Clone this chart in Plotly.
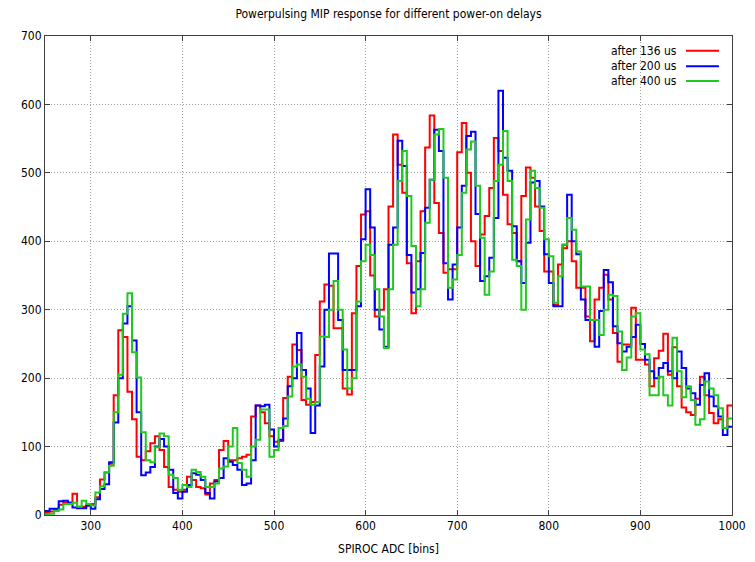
import plotly.graph_objects as go

# bin starts (ADC), width 5
bin_start = list(range(250, 1000, 5))
bin_end = 1000

after_136 = [3, 5, 8, 15, 18, 18, 31, 12, 12, 14,
             16, 26, 52, 62, 75, 175, 270, 260, 180, 140,
             85, 80, 93, 105, 115, 95, 70, 41, 37, 34,
             37, 56, 51, 41, 39, 30, 46, 51, 95, 108,
             80, 80, 83, 85, 88, 144, 160, 150, 134, 115,
             107, 108, 171, 202, 249, 241, 168, 161, 165, 234,
             312, 337, 335, 273, 273, 185, 176, 295, 364, 439,
             444, 350, 290, 300, 330, 451, 556, 512, 471, 368,
             295, 371, 444, 537, 584, 456, 412, 354, 359, 359,
             530, 573, 500, 400, 364, 410, 437, 478, 551, 532,
             468, 425, 412, 371, 466, 508, 493, 451, 415, 356,
             356, 307, 366, 390, 400, 371, 332, 332, 290, 254,
             315, 332, 351, 315, 266, 224, 249, 249, 303, 227,
             227, 220, 188, 229, 240, 265, 205, 245, 188, 157,
             150, 146, 170, 202, 175, 149, 134, 140, 127, 160]

after_200 = [6, 9, 9, 20, 21, 18, 11, 10, 10, 14,
             9, 23, 38, 45, 77, 135, 200, 280, 305, 255,
             150, 58, 62, 70, 100, 111, 100, 66, 32, 24,
             34, 44, 61, 59, 51, 32, 24, 49, 54, 83,
             78, 73, 66, 44, 46, 80, 160, 159, 161, 125,
             100, 110, 141, 188, 200, 266, 212, 185, 120, 160,
             217, 300, 382, 382, 285, 212, 212, 212, 305, 403,
             476, 420, 300, 271, 246, 395, 420, 547, 510, 380,
             325, 330, 383, 449, 490, 563, 532, 368, 315, 366,
             420, 481, 554, 560, 440, 342, 349, 376, 434, 620,
             522, 503, 422, 371, 339, 398, 486, 488, 451, 381,
             339, 305, 305, 395, 468, 400, 381, 315, 285, 285,
             246, 298, 358, 340, 276, 251, 239, 246, 260, 278,
             250, 227, 210, 200, 215, 222, 210, 200, 239, 215,
             185, 178, 161, 190, 207, 173, 159, 144, 117, 129]

after_400 = [1, 2, 6, 8, 16, 16, 18, 12, 21, 16,
             14, 33, 42, 62, 72, 150, 205, 294, 324, 238,
             201, 121, 80, 77, 99, 119, 115, 59, 54, 37,
             44, 41, 66, 63, 56, 41, 41, 46, 68, 71,
             100, 127, 76, 66, 56, 100, 110, 154, 154, 85,
             95, 127, 130, 173, 217, 220, 202, 170, 161, 165,
             261, 260, 300, 342, 300, 242, 185, 200, 312, 371,
             395, 380, 330, 290, 244, 330, 395, 488, 532, 466,
             393, 305, 330, 427, 490, 556, 564, 493, 332, 344,
             380, 471, 534, 546, 481, 405, 322, 356, 488, 512,
             561, 488, 373, 364, 300, 432, 503, 478, 449, 403,
             378, 310, 349, 395, 434, 417, 385, 334, 334, 285,
             285, 263, 300, 322, 320, 268, 212, 230, 290, 295,
             242, 235, 175, 175, 202, 175, 160, 259, 210, 172,
             188, 168, 132, 140, 195, 185, 175, 156, 127, 141]

series_names = ["after 136 us", "after 200 us", "after 400 us"]
series_colors = ["#ff0000", "#0000ff", "#22c822"]
x_ticks = [300, 400, 500, 600, 700, 800, 900, 1000]
y_ticks = [0, 100, 200, 300, 400, 500, 600, 700]

FONT = "DejaVu Sans Condensed, Liberation Sans Narrow, DejaVu Sans, sans-serif"

fig = go.Figure()
xs = bin_start + [bin_end]
for name, vals, col in zip(series_names, [after_136, after_200, after_400], series_colors):
    fig.add_trace(go.Scatter(
        x=xs, y=vals + [vals[-1]], mode="lines", name=name,
        line=dict(color=col, width=2, shape="hv"), showlegend=False,
        hoverinfo="skip"))

# gnuplot-style key (text right, sample line on right)
row_y = [0.969, 0.937, 0.906]
for name, col, yy in zip(series_names, series_colors, row_y):
    fig.add_annotation(x=0.923, y=yy, xref="paper", yref="paper", text=name,
                       showarrow=False, xanchor="right", yanchor="middle",
                       font=dict(family=FONT, size=12, color="#000000"))
    fig.add_shape(type="line", xref="paper", yref="paper",
                  x0=0.933, x1=0.981, y0=yy, y1=yy,
                  line=dict(color=col, width=2))

axis_common = dict(showline=True, linecolor="#404040", linewidth=1, mirror="ticks",
                   ticks="inside", ticklen=5, tickcolor="#404040", automargin=False,
                   showgrid=True, gridcolor="#a0a0a0", griddash="1px,2px", gridwidth=1,
                   zeroline=False, tickfont=dict(family=FONT, size=12, color="#000000"))

fig.update_xaxes(range=[250, 1000], tickvals=x_ticks,
                 title=dict(text="SPIROC ADC [bins]", standoff=12,
                            font=dict(family=FONT, size=12, color="#000000")),
                 **axis_common)
fig.update_yaxes(range=[0, 700], tickvals=y_ticks, **axis_common)

fig.update_layout(
    width=755, height=562,
    margin=dict(l=45, r=23, t=36, b=47),
    paper_bgcolor="#ffffff", plot_bgcolor="#ffffff",
    title=dict(text="Powerpulsing MIP response for different power-on delays",
               x=0.5, xref="paper", y=1 - 14 / 562, yref="container",
               xanchor="center", yanchor="middle", automargin=False,
               font=dict(family=FONT, size=12, color="#000000")),
)

fig.write_html("out.html", config={"displayModeBar": False},
               post_script="document.body.style.margin='0';document.body.style.padding='0';")
